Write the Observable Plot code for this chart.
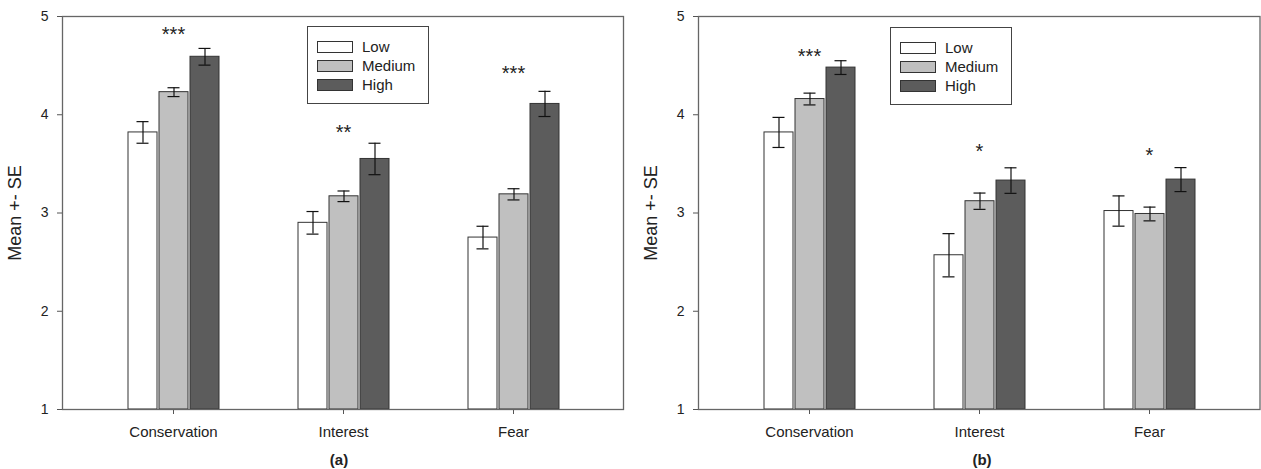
<!DOCTYPE html>
<html><head><meta charset="utf-8">
<script src="https://cdn.jsdelivr.net/npm/d3@7"></script>
<script src="https://cdn.jsdelivr.net/npm/@observablehq/plot@0.6"></script>
<style>
body{margin:0;background:#fff;font-family:"Liberation Sans",Arial,sans-serif;}
#wrap{position:relative;width:1261px;height:469px;overflow:hidden;}
.panel{position:absolute;top:0;}
.legend{position:absolute;border:1px solid #444;background:#fff;box-sizing:border-box;padding-top:10px;}
.legend .row{display:flex;align-items:center;height:19px;font-size:15px;color:#222;}
.legend .sw{display:inline-block;width:36px;height:12px;box-sizing:border-box;border:1px solid #333;margin-left:9px;margin-right:9px;}
.cap{position:absolute;font-weight:bold;font-size:15px;color:#222;transform:translate(-50%,-50%);}
</style></head><body><div id="wrap"></div><script>
const categories = ["Conservation", "Interest", "Fear"];
const levels = ["Low", "Medium", "High"];
const colors = ["#ffffff", "#c0c0c0", "#5c5c5c"];
const yTicks = [1, 2, 3, 4, 5];
// panel (a): rows = categories, columns = levels
const meanA = [[3.82, 4.23, 4.59], [2.90, 3.17, 3.55], [2.75, 3.19, 4.11]];
const seA = [[0.11, 0.045, 0.085], [0.115, 0.054, 0.16], [0.115, 0.057, 0.128]];
const sigA = ["***", "**", "***"];
const sigYA = [4.82, 3.82, 4.42];
// panel (b)
const meanB = [[3.82, 4.16, 4.48], [2.57, 3.12, 3.33], [3.02, 2.99, 3.34]];
const seB = [[0.153, 0.06, 0.07], [0.22, 0.083, 0.13], [0.154, 0.07, 0.122]];
const sigB = ["***", "*", "*"];
const sigYB = [4.59, 3.63, 3.58];

const wrap = document.getElementById("wrap");
const FONT = "'Liberation Sans', Arial, sans-serif";

function makePanel(means, ses, sig, sigY, o) {
  const data = categories.flatMap((c, i) => levels.map((l, j) => ({category: c, level: l, mean: means[i][j], se: ses[i][j]})));
  const sigData = categories.map((c, i) => ({category: c, label: sig[i], y: sigY[i]}));
  const dims = {width: o.width, height: 440, marginLeft: o.marginLeft, marginRight: o.marginRight, marginTop: 16, marginBottom: 31};
  const plot = Plot.plot({
    ...dims,
    style: {fontFamily: FONT, background: "transparent", color: "#222"},
    fx: {domain: categories, paddingInner: 0, paddingOuter: 0.15, label: null},
    x: {domain: levels, paddingInner: 0.079, paddingOuter: 1.238, axis: null},
    y: {domain: [1, 5], axis: null},
    color: {domain: levels, range: colors},
    marks: [
      Plot.barY(data, {fx: "category", x: "level", y1: 1, y2: "mean", fill: "level", stroke: "#333", strokeWidth: 1}),
      Plot.ruleX(data, {fx: "category", x: "level", y1: d => d.mean - d.se, y2: d => d.mean + d.se, stroke: "#111", strokeWidth: 1.2}),
      Plot.tickY(data, {fx: "category", x: "level", y: d => d.mean + d.se, insetLeft: 8.5, insetRight: 8.5, stroke: "#111", strokeWidth: 1.2}),
      Plot.tickY(data, {fx: "category", x: "level", y: d => d.mean - d.se, insetLeft: 8.5, insetRight: 8.5, stroke: "#111", strokeWidth: 1.2}),
      Plot.text(sigData, {fx: "category", y: "y", text: "label", fontSize: 20, fill: "#222"}),
      Plot.axisFx({anchor: "bottom", tickSize: 5, tickPadding: 12, fontSize: 15, label: null, stroke: "#555"})
    ]
  });
  plot.classList.add("panel");
  plot.style.left = o.left + "px";
  wrap.appendChild(plot);
  // overlay: y axis and frame spanning the whole panel, sharing the same y scale
  const axisPlot = Plot.plot({
    ...dims,
    style: {fontFamily: FONT, background: "transparent", color: "#222"},
    y: {domain: [1, 5]},
    marks: [
      Plot.frame({stroke: "#666", strokeWidth: 1.3}),
      Plot.axisY({ticks: yTicks, tickFormat: "d", tickSize: 5, tickPadding: 9, fontSize: 14, label: "Mean +- SE", labelArrow: "none", labelAnchor: "center", labelOffset: 54, stroke: "#555"})
    ]
  });
  axisPlot.classList.add("panel");
  axisPlot.style.left = o.left + "px";
  axisPlot.style.pointerEvents = "none";
  wrap.appendChild(axisPlot);
  axisPlot.querySelectorAll('[aria-label="y-axis label"]').forEach(g => {
    g.setAttribute("font-size", "18");
    g.querySelectorAll("text").forEach(t => { t.setAttribute("font-size", "18"); t.textContent = t.textContent.replace(/\s*[↑↓→←]\s*/g, ""); });
  });

  const color = plot.scale("color");
  const lg = document.createElement("div");
  lg.className = "legend";
  lg.style.left = o.legend[0] + "px"; lg.style.top = o.legend[1] + "px";
  lg.style.width = "122px"; lg.style.height = "78px";
  levels.forEach(l => {
    const row = document.createElement("div");
    row.className = "row";
    const sw = document.createElement("span");
    sw.className = "sw";
    sw.style.background = color.apply(l);
    row.appendChild(sw);
    row.appendChild(document.createTextNode(l));
    lg.appendChild(row);
  });
  wrap.appendChild(lg);
  const cap = document.createElement("div");
  cap.className = "cap";
  cap.textContent = o.caption;
  cap.style.left = o.capX + "px"; cap.style.top = "459px";
  wrap.appendChild(cap);
}

makePanel(meanA, seA, sigA, sigYA, {left: 0, width: 640, marginLeft: 62, marginRight: 17, legend: [307, 26], caption: "(a)", capX: 339});
makePanel(meanB, seB, sigB, sigYB, {left: 640, width: 621, marginLeft: 58, marginRight: 1.5, legend: [890, 27], caption: "(b)", capX: 982});
</script></body></html>
